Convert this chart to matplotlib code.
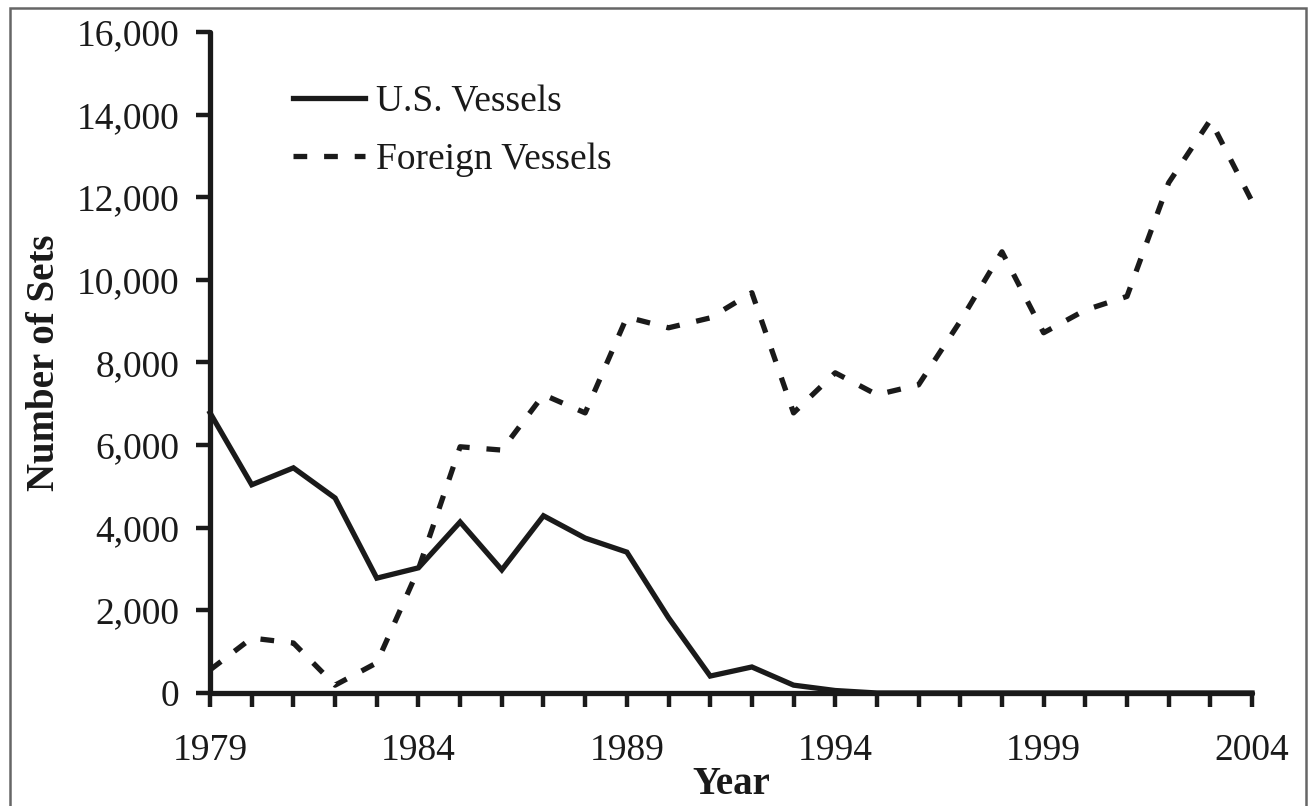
import matplotlib
matplotlib.use("Agg")
import matplotlib.pyplot as plt
from matplotlib.patches import Rectangle
from matplotlib.ticker import FuncFormatter, MultipleLocator
import numpy as np

years = list(range(1979, 2005))

us_sets = [6780, 5040, 5450, 4720, 2780, 3030, 4140, 2980, 4290, 3750,
           3410, 1820, 410, 630, 190, 60, 0, 0, 0, 0,
           0, 0, 0, 0, 0, 0]

foreign_sets = [560, 1330, 1210, 190, 730, 3000, 5960, 5880, 7220, 6780,
                9100, 8840, 9080, 9690, 6780, 7750, 7220, 7460, 9000, 10680,
                8720, 9270, 9600, 12350, 13870, 11900]

plt.rcParams['font.family'] = ['Liberation Serif', 'DejaVu Serif']

fig = plt.figure(figsize=(13.08, 8.06), dpi=100)
ax = fig.add_axes([0.1606, 0.1402, 0.7966, 0.8201])

ax.plot(years, us_sets, color='#1a1a1a', lw=3.8, solid_joinstyle='miter',
        label='U.S. Vessels', clip_on=False)
ax.plot(years, foreign_sets, color='#1a1a1a', lw=3.8, dashes=(2.6, 3.2),
        dash_capstyle='butt', label='Foreign Vessels', clip_on=False)

ax.set_xlim(1979, 2004)
ax.set_ylim(0, 16000)
ax.xaxis.set_major_locator(MultipleLocator(1))
ax.xaxis.set_major_formatter(FuncFormatter(lambda v, p: f"{int(v)}" if (int(round(v)) - 1979) % 5 == 0 else ""))
ax.yaxis.set_major_locator(MultipleLocator(2000))
ax.yaxis.set_major_formatter(FuncFormatter(lambda v, p: f"{int(v):,}"))

for s in ['top', 'right']:
    ax.spines[s].set_visible(False)
for s in ['left', 'bottom']:
    ax.spines[s].set_linewidth(3.8)
    ax.spines[s].set_color('#1a1a1a')
    ax.spines[s].set_capstyle('round')

ax.tick_params(axis='x', direction='out', length=10, width=3.2, color='#1a1a1a',
               labelsize=27, pad=19, labelcolor='#1a1a1a')
ax.tick_params(axis='y', direction='out', length=10, width=3.2, color='#1a1a1a',
               labelsize=27, pad=12, labelcolor='#1a1a1a')

ax.set_xlabel('Year', fontsize=28, fontweight='bold', labelpad=-1, color='#1a1a1a')
ax.set_ylabel('Number of Sets', fontsize=28, fontweight='bold', labelpad=10, color='#1a1a1a')

leg = ax.legend(loc='upper left', bbox_to_anchor=(0.08, 0.92), frameon=False,
                fontsize=27, handlelength=1.9, handletextpad=0.3,
                labelspacing=0.62, borderpad=0, borderaxespad=0)
for t in leg.get_texts():
    t.set_color('#1a1a1a')

fig.patches.append(Rectangle((10 / 1308, -0.01), 1296 / 1308, 1 - 8 / 806 + 0.01,
                             transform=fig.transFigure, fill=False,
                             edgecolor='#666666', lw=1.8))

fig.savefig('out.png', dpi=100)
